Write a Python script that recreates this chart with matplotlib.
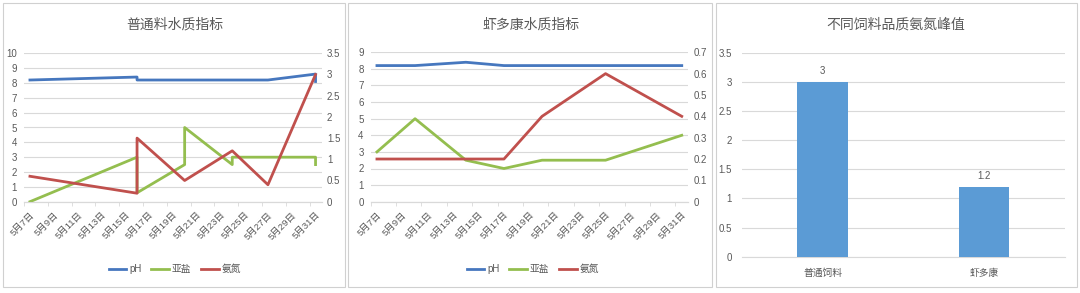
import matplotlib.pyplot as plt
from matplotlib.patches import Rectangle

plt.rcParams['font.family'] = ['Liberation Sans', 'Noto Sans CJK SC', 'DejaVu Sans']

# data: day of May
tick_days = [7, 9, 11, 13, 15, 17, 19, 21, 23, 25, 27, 29, 31]
tick_labels = ['5月7日', '5月9日', '5月11日', '5月13日', '5月15日', '5月17日', '5月19日',
               '5月21日', '5月23日', '5月25日', '5月27日', '5月29日', '5月31日']

# 普通料
days1 = [7, 16, 16, 20, 20, 24, 24, 27, 31, 31]
ph1 = [8.2, 8.4, 8.2, 8.2, 8.2, 8.2, 8.2, 8.2, 8.6, 8.1]
nitrite1 = [0, 3, 0.6, 2.5, 5, 2.5, 3, 3, 3, 2.5]
ammonia1 = [0.6, 0.2, 1.5, 0.5, 0.5, 1.2, 1.2, 0.4, 3.0, 3.0]

# 虾多康
days2 = [7, 10, 14, 17, 20, 25, 31]
ph2 = [8.2, 8.2, 8.4, 8.2, 8.2, 8.2, 8.2]
nitrite2 = [3, 5, 2.5, 2, 2.5, 2.5, 4]
ammonia2 = [0.2, 0.2, 0.2, 0.2, 0.4, 0.6, 0.4]

# 峰值
feeds = ['普通饲料', '虾多康']
peaks = [3, 1.2]

c_ph = '#4677BE'
c_no2 = '#94BE4F'
c_nh = '#C0504D'
c_grid = '#D9D9D9'
c_txt = '#595959'

fig = plt.figure(figsize=(10.8, 2.93), dpi=100)

# panel borders
for x0, x1 in [(3, 345), (348, 712), (716, 1077)]:
    fig.patches.append(Rectangle((x0 / 1080, 6 / 293), (x1 - x0) / 1080, 284 / 293,
                                 transform=fig.transFigure, fill=False,
                                 edgecolor='#D0D0D0', linewidth=0.8))


def line_panel(rect, title, days, ph, no2, nh, lmax, rmax, rstep, title_x, leg_x):
    ax = fig.add_axes(rect)
    ax2 = ax.twinx()
    x = [d - 7 for d in days]
    l1, = ax.plot(x, ph, color=c_ph, lw=2, label='pH', zorder=3)
    l2, = ax.plot(x, no2, color=c_no2, lw=2, label='亚盐', zorder=3)
    l3, = ax2.plot(x, nh, color=c_nh, lw=2, label='氨氮', zorder=3)
    ax.set_xlim(-0.5, 24.5)
    ax.set_ylim(0, lmax)
    ax2.set_ylim(0, rmax)
    ax.set_yticks(range(0, lmax + 1))
    rt = [round(i * rstep, 2) for i in range(int(round(rmax / rstep)) + 1)]
    ax2.set_yticks(rt)
    ax2.set_yticklabels([('%g' % v) for v in rt])
    ax.yaxis.grid(True, color=c_grid, lw=0.8)
    ax.set_axisbelow(True)
    ax.set_xticks([d - 7 for d in tick_days])
    ax.set_xticklabels(tick_labels, rotation=45, ha='right', va='top',
                       rotation_mode='anchor')
    ax.set_xticks([d - 7.5 for d in tick_days], minor=True)
    ax.tick_params(axis='x', which='major', length=0, pad=6, labelsize=6.8, labelcolor=c_txt)
    ax.tick_params(axis='x', which='minor', length=3, color=c_grid)
    ax.tick_params(axis='y', length=0, labelsize=7, labelcolor=c_txt, pad=5)
    ax2.tick_params(axis='y', length=0, labelsize=7, labelcolor=c_txt, pad=4)
    for a in (ax, ax2):
        for s in ['left', 'right', 'top']:
            a.spines[s].set_visible(False)
        a.spines['bottom'].set_color(c_grid)
    fig.text(title_x / 1080, 1 - 25 / 293, title, ha='center', va='center',
             fontsize=10, color=c_txt)
    fig.legend(handles=[l1, l2, l3], loc='center', bbox_to_anchor=(leg_x / 1080, 1 - 269 / 293),
               ncol=3, frameon=False, fontsize=7, handlelength=1.8, columnspacing=1.0,
               handletextpad=0.3, labelcolor=c_txt)


line_panel([24 / 1080, 1 - 201.7 / 293, 297.5 / 1080, 148.4 / 293], '普通料水质指标',
           days1, ph1, nitrite1, ammonia1, 10, 3.5, 0.5, 175, 175)
line_panel([370.6 / 1080, 1 - 201.7 / 293, 317.5 / 1080, 149.4 / 293], '虾多康水质指标',
           days2, ph2, nitrite2, ammonia2, 9, 0.7, 0.1, 531, 533)

# bar chart
ax3 = fig.add_axes([741.7 / 1080, 1 - 256.7 / 293, 323.3 / 1080, 204 / 293])
bars = ax3.bar(range(len(feeds)), peaks, width=0.31, color='#5B9BD5', zorder=3)
ax3.set_xlim(-0.5, 1.5)
ax3.set_ylim(0, 3.5)
yt = [0, 0.5, 1, 1.5, 2, 2.5, 3, 3.5]
ax3.set_yticks(yt)
ax3.set_yticklabels([('%g' % v) for v in yt])
ax3.yaxis.grid(True, color=c_grid, lw=0.8)
ax3.set_axisbelow(True)
ax3.set_xticks(range(len(feeds)))
ax3.set_xticklabels(feeds)
ax3.tick_params(axis='x', length=0, labelsize=7, labelcolor=c_txt, pad=8)
ax3.tick_params(axis='y', length=0, labelsize=7, labelcolor=c_txt, pad=7)
for s in ['left', 'right', 'top']:
    ax3.spines[s].set_visible(False)
ax3.spines['bottom'].set_color(c_grid)
for b, v in zip(bars, peaks):
    ax3.annotate('%g' % v, (b.get_x() + b.get_width() / 2, v), xytext=(0, 4),
                 textcoords='offset points', ha='center', va='bottom',
                 fontsize=7, color=c_txt)
fig.text(896 / 1080, 1 - 25 / 293, '不同饲料品质氨氮峰值', ha='center', va='center',
         fontsize=10, color=c_txt)

fig.savefig('out.png', dpi=100, facecolor='white')
